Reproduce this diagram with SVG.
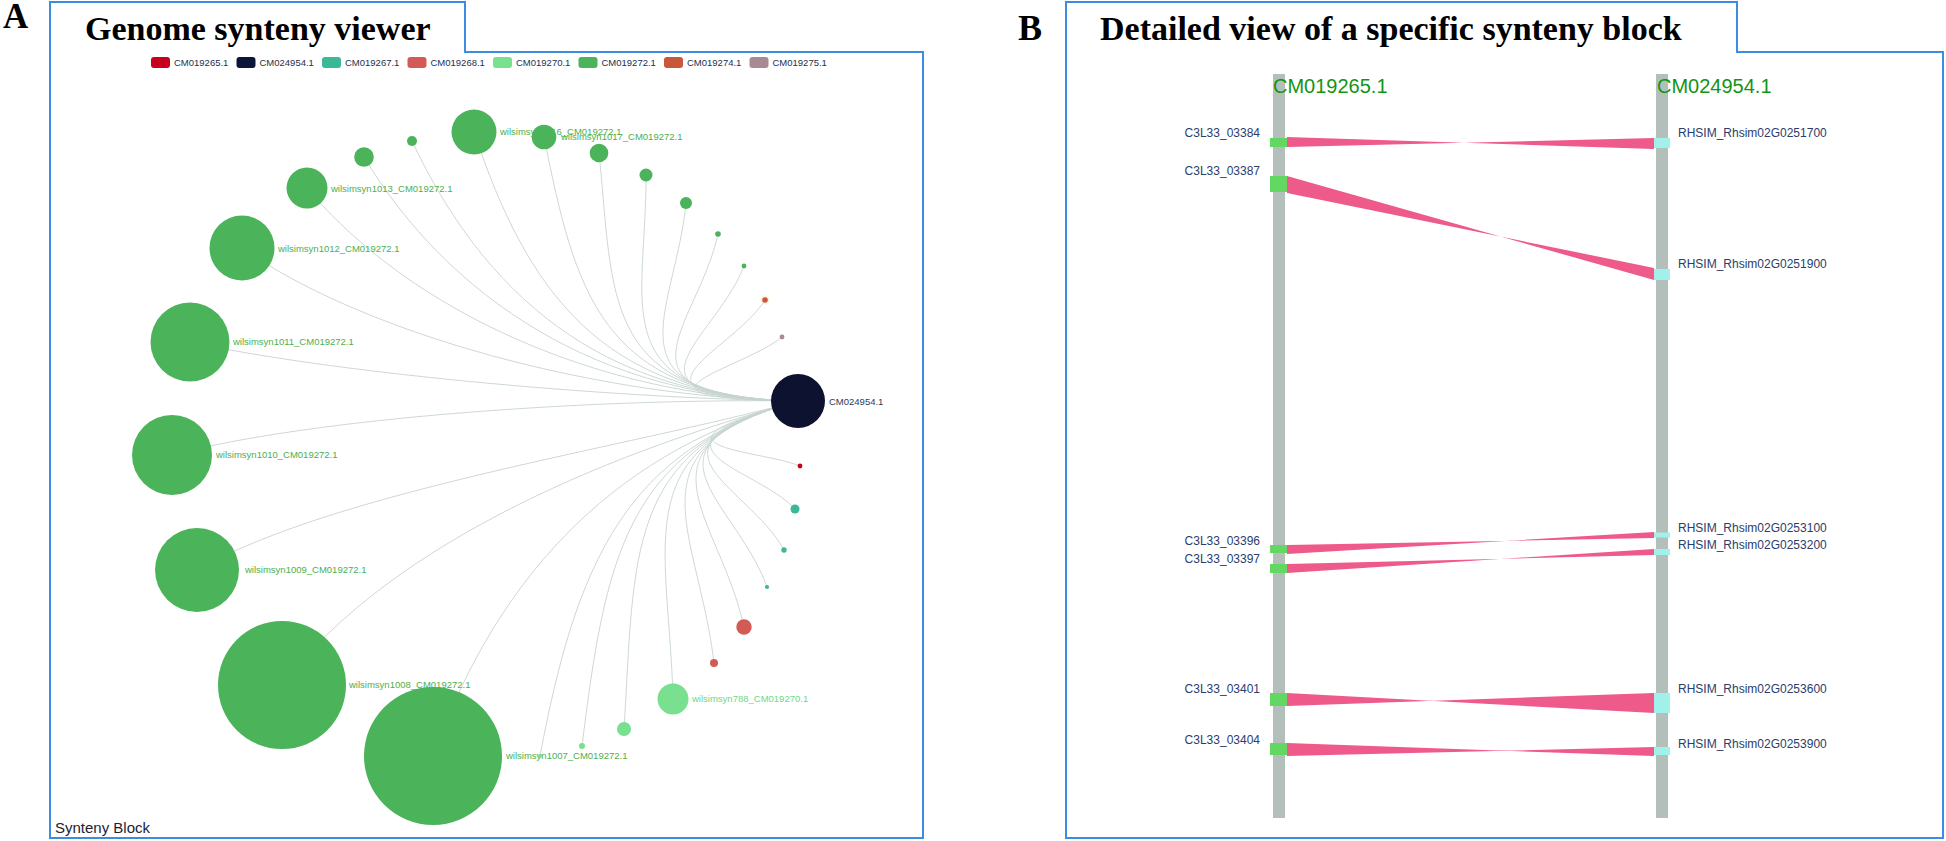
<svg xmlns="http://www.w3.org/2000/svg" width="1946" height="841" viewBox="0 0 1946 841">
<style>
.panel{fill:none;stroke:#3a8de0;stroke-width:2}
.plab{font-family:"Liberation Serif",serif;font-weight:bold;fill:#000}
.title{font-family:"Liberation Serif",serif;font-weight:bold;font-size:34px;fill:#000}
.leg{font-family:"Liberation Sans",Arial,sans-serif;font-size:9.5px;fill:#23304d}
.nl{font-family:"Liberation Sans",Arial,sans-serif;font-size:9.5px;fill:#4caf50}
.edge{fill:none;stroke:#c6d4d0;stroke-width:0.9}
.g{fill:#4bb35a}
.lg{fill:#78e08f}
.te{fill:#3bb896}
.sa{fill:#d45a55}
.chr{fill:#b3bfbb}
.chl{font-family:"Liberation Sans",Arial,sans-serif;font-size:20px;fill:#149414}
.gl{font-family:"Liberation Sans",Arial,sans-serif;font-size:12px;fill:#2a3d6b}
.rib{fill:#ee5a89}
.mL{fill:#62d862}
.mR{fill:#a2f0ea}
</style>
<rect x="0" y="0" width="1946" height="841" fill="#fff"/>

<!-- Panel A -->
<g id="panelA">
<text class="plab" x="3" y="28" font-size="35">A</text>
<path class="panel" d="M50,838 V2 H465 V52 H923 V838 Z"/>
<text class="title" x="85" y="40">Genome synteny viewer</text>
<g id="legend">
<rect x="151" y="57" width="19" height="11" rx="3" fill="#c8001e"/><text class="leg" x="174" y="66">CM019265.1</text>
<rect x="236.5" y="57" width="19" height="11" rx="3" fill="#0d1538"/><text class="leg" x="259.5" y="66">CM024954.1</text>
<rect x="322" y="57" width="19" height="11" rx="3" fill="#3bb896"/><text class="leg" x="345" y="66">CM019267.1</text>
<rect x="407.5" y="57" width="19" height="11" rx="3" fill="#d45a55"/><text class="leg" x="430.5" y="66">CM019268.1</text>
<rect x="493" y="57" width="19" height="11" rx="3" fill="#78e08f"/><text class="leg" x="516" y="66">CM019270.1</text>
<rect x="578.5" y="57" width="19" height="11" rx="3" fill="#4bb35a"/><text class="leg" x="601.5" y="66">CM019272.1</text>
<rect x="664" y="57" width="19" height="11" rx="3" fill="#c8583a"/><text class="leg" x="687" y="66">CM019274.1</text>
<rect x="749.5" y="57" width="19" height="11" rx="3" fill="#a88a96"/><text class="leg" x="772.5" y="66">CM019275.1</text>
</g>
<text x="55" y="833" font-family="Liberation Sans, Arial, sans-serif" font-size="15" fill="#1b2235">Synteny Block</text>
</g>

<g id="connectors">
<path class="edge" d="M172,455 C315,417 600,398 798,401"/>
<path class="edge" d="M190,342 C327,372 600,398 798,401"/>
<path class="edge" d="M242,248 C364,334 600,398 798,401"/>
<path class="edge" d="M307,188 C409,310 600,398 798,401"/>
<path class="edge" d="M364,157 C449,298 600,398 798,401"/>
<path class="edge" d="M412,141 C483,292 600,398 798,401"/>
<path class="edge" d="M474,132 C526,288 600,398 798,401"/>
<path class="edge" d="M544,137 C575,290 600,398 798,401"/>
<path class="edge" d="M599,153 C614,296 600,398 798,401"/>
<path class="edge" d="M646,175 C647,305 600,398 798,401"/>
<path class="edge" d="M686,203 C675,316 600,398 798,401"/>
<path class="edge" d="M718,234 C697,329 600,398 798,401"/>
<path class="edge" d="M744,266 C715,342 600,398 798,401"/>
<path class="edge" d="M765,300 C730,355 600,398 798,401"/>
<path class="edge" d="M782,337 C742,370 600,398 798,401"/>
<path class="edge" d="M800,466 C758,449 625,448 798,401"/>
<path class="edge" d="M795,509 C755,466 625,448 798,401"/>
<path class="edge" d="M784,550 C747,483 625,448 798,401"/>
<path class="edge" d="M767,587 C735,498 625,448 798,401"/>
<path class="edge" d="M744,627 C719,514 625,448 798,401"/>
<path class="edge" d="M714,663 C698,528 625,448 798,401"/>
<path class="edge" d="M673,699 C669,542 625,448 798,401"/>
<path class="edge" d="M624,729 C635,554 625,448 798,401"/>
<path class="edge" d="M582,746 C605,561 625,448 798,401"/>
<path class="edge" d="M540,756 C576,565 625,448 798,401"/>
<path class="edge" d="M433,756 C501,565 625,448 798,401"/>
<path class="edge" d="M282,685 C395,537 625,448 798,401"/>
<path class="edge" d="M197,570 C336,491 625,448 798,401"/>
</g>

<g id="n1010"><circle class="g" cx="172" cy="455" r="40"/><text class="nl" x="216" y="458">wilsimsyn1010_CM019272.1</text></g>
<g id="n1011"><circle class="g" cx="190" cy="342" r="39.5"/><text class="nl" x="233" y="345">wilsimsyn1011_CM019272.1</text></g>
<g id="n1012"><circle class="g" cx="242" cy="248" r="32.5"/><text class="nl" x="278" y="252">wilsimsyn1012_CM019272.1</text></g>
<g id="n1013"><circle class="g" cx="307" cy="188" r="20.5"/><text class="nl" x="331" y="192">wilsimsyn1013_CM019272.1</text></g>
<g id="n5"><circle class="g" cx="364" cy="157" r="9.8"/></g>
<g id="n6"><circle class="g" cx="412" cy="141" r="5"/></g>
<g id="n1016"><circle class="g" cx="474" cy="132" r="22.5"/><text class="nl" x="500" y="135">wilsimsyn1016_CM019272.1</text></g>
<g id="n1017"><circle class="g" cx="544" cy="137" r="12.3"/><text class="nl" x="561" y="140">wilsimsyn1017_CM019272.1</text></g>
<g id="n9"><circle class="g" cx="599" cy="153" r="9.3"/></g>
<g id="n10"><circle class="g" cx="646" cy="175" r="6.5"/></g>
<g id="n11"><circle class="g" cx="686" cy="203" r="6"/></g>
<g id="n12"><circle class="g" cx="718" cy="234" r="2.8"/></g>
<g id="n13"><circle class="g" cx="744" cy="266" r="2.4"/></g>
<g id="n14"><circle cx="765" cy="300" r="4.5" fill="#fde9c8" opacity="0.6"/><circle cx="765" cy="300" r="2.8" fill="#c8583a"/></g>
<g id="n15"><circle cx="782" cy="337" r="2.4" fill="#a88a96"/></g>
<g id="n16"><circle cx="800" cy="466" r="2.4" fill="#c8001e"/></g>
<g id="n17"><circle class="te" cx="795" cy="509" r="4.5"/></g>
<g id="n18"><circle class="te" cx="784" cy="550" r="2.7"/></g>
<g id="n19"><circle class="te" cx="767" cy="587" r="2.1"/></g>
<g id="n20"><circle class="sa" cx="744" cy="627" r="7.7"/></g>
<g id="n21"><circle class="sa" cx="714" cy="663" r="4"/></g>
<g id="n788"><circle class="lg" cx="673" cy="699" r="15.5"/><text class="nl" x="692" y="702" style="fill:#6fd884">wilsimsyn788_CM019270.1</text></g>
<g id="n23"><circle class="lg" cx="624" cy="729" r="7"/></g>
<g id="n24"><circle class="lg" cx="582" cy="746" r="3"/></g>
<g id="n1007"><circle class="g" cx="433" cy="756" r="69"/><text class="nl" x="506" y="759">wilsimsyn1007_CM019272.1</text></g>
<g id="n25"><circle class="lg" cx="540" cy="756" r="2"/></g>
<g id="n1008"><circle class="g" cx="282" cy="685" r="64"/><text class="nl" x="349" y="688">wilsimsyn1008_CM019272.1</text></g>
<g id="n1009"><circle class="g" cx="197" cy="570" r="42"/><text class="nl" x="245" y="573">wilsimsyn1009_CM019272.1</text></g>
<g id="hub"><circle cx="798" cy="401" r="27" fill="#0c1230"/><text x="829" y="405" font-family="Liberation Sans, Arial, sans-serif" font-size="9.5" fill="#2a3b5a">CM024954.1</text></g>

<!-- Panel B -->
<g id="panelB">
<text class="plab" x="1018" y="40" font-size="36">B</text>
<path class="panel" d="M1066,838 V2 H1737 V52 H1943 V838 Z"/>
<text class="title" x="1100" y="40">Detailed view of a specific synteny block</text>
</g>
<g id="chrL"><rect class="chr" x="1273" y="74" width="12" height="744"/><text class="chl" x="1273" y="93">CM019265.1</text></g>
<g id="chrR"><rect class="chr" x="1656" y="74" width="12" height="744"/><text class="chl" x="1657" y="93">CM024954.1</text></g>

<g id="ribbons">
<polygon class="rib" points="1287,137 1654,149 1654,138 1287,147"/>
<polygon class="rib" points="1287,176 1654,280 1654,268 1287,193"/>
<polygon class="rib" points="1287,545 1654,538 1654,532 1287,554"/>
<polygon class="rib" points="1287,564 1654,555 1654,549 1287,573"/>
<polygon class="rib" points="1287,693 1654,713 1654,693 1287,706"/>
<polygon class="rib" points="1287,743 1654,756 1654,747 1287,756"/>
</g>

<g id="g03384"><rect class="mL" x="1270" y="138" width="17" height="9"/><text class="gl" x="1260" y="137" text-anchor="end">C3L33_03384</text></g>
<g id="g03387"><rect class="mL" x="1270" y="176" width="17" height="16"/><text class="gl" x="1260" y="175" text-anchor="end">C3L33_03387</text></g>
<g id="g03396"><rect class="mL" x="1270" y="545" width="17" height="8"/><text class="gl" x="1260" y="545" text-anchor="end">C3L33_03396</text></g>
<g id="g03397"><rect class="mL" x="1270" y="564" width="17" height="9"/><text class="gl" x="1260" y="563" text-anchor="end">C3L33_03397</text></g>
<g id="g03401"><rect class="mL" x="1270" y="693" width="17" height="13"/><text class="gl" x="1260" y="693" text-anchor="end">C3L33_03401</text></g>
<g id="g03404"><rect class="mL" x="1270" y="743" width="17" height="12"/><text class="gl" x="1260" y="744" text-anchor="end">C3L33_03404</text></g>

<g id="r1700"><rect class="mR" x="1654" y="138" width="16" height="10"/><text class="gl" x="1678" y="137">RHSIM_Rhsim02G0251700</text></g>
<g id="r1900"><rect class="mR" x="1654" y="269" width="16" height="11"/><text class="gl" x="1678" y="268">RHSIM_Rhsim02G0251900</text></g>
<g id="r3100"><rect class="mR" x="1654" y="532.5" width="16" height="5"/><text class="gl" x="1678" y="532">RHSIM_Rhsim02G0253100</text></g>
<g id="r3200"><rect class="mR" x="1654" y="549" width="16" height="6"/><text class="gl" x="1678" y="549">RHSIM_Rhsim02G0253200</text></g>
<g id="r3600"><rect class="mR" x="1654" y="693" width="16" height="20"/><text class="gl" x="1678" y="693">RHSIM_Rhsim02G0253600</text></g>
<g id="r3900"><rect class="mR" x="1654" y="747" width="16" height="8"/><text class="gl" x="1678" y="748">RHSIM_Rhsim02G0253900</text></g>
</svg>
